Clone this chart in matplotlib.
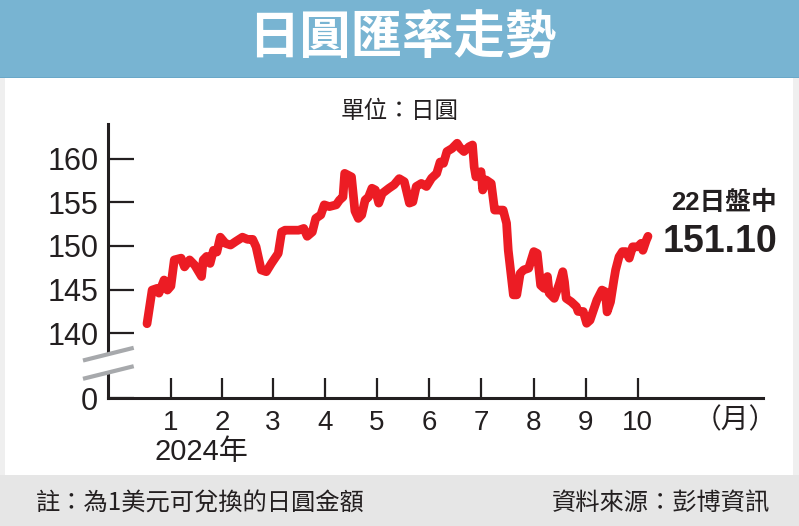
import matplotlib
matplotlib.use("Agg")
import matplotlib.pyplot as plt
from matplotlib.patches import Rectangle, Polygon
from matplotlib.lines import Line2D
import pandas as pd

plt.rcParams['font.family'] = ['Liberation Sans', 'Noto Sans CJK TC', 'DejaVu Sans']

# USD/JPY 2024
dates = ["01-02", "01-05", "01-08", "01-09", "01-12", "01-14", "01-16", "01-18",
         "01-22", "01-24", "01-27", "01-30", "02-03", "02-04", "02-06", "02-08",
         "02-10", "02-12", "02-14", "02-17", "02-20", "02-23", "02-27", "03-01",
         "03-04", "03-06", "03-09", "03-12", "03-15", "03-19", "03-21", "03-23",
         "03-28", "03-31", "04-03", "04-05", "04-08", "04-10", "04-13", "04-15",
         "04-18", "04-22", "04-24", "04-26", "04-27", "04-29", "05-01", "05-03",
         "05-05", "05-07", "05-09", "05-11", "05-13", "05-15", "05-17", "05-19",
         "05-23", "05-26", "05-29", "06-01", "06-04", "06-06", "06-08", "06-11",
         "06-14", "06-17", "06-20", "06-22", "06-24", "06-26", "06-29", "07-02",
         "07-04", "07-06", "07-09", "07-11", "07-12", "07-13", "07-16", "07-17",
         "07-19", "07-22", "07-24", "07-27", "07-29", "07-31", "08-01", "08-04",
         "08-06", "08-08", "08-10", "08-13", "08-16", "08-18", "08-20", "08-22",
         "08-24", "08-25", "08-28", "08-31", "09-02", "09-03", "09-04", "09-07",
         "09-10", "09-11", "09-14", "09-16", "09-18", "09-20", "09-22", "09-25",
         "09-27", "09-28", "09-30", "10-02", "10-03", "10-05", "10-07", "10-09",
         "10-11", "10-13", "10-16", "10-18", "10-19", "10-21", "10-22"]
rates = [141.1, 144.95, 145.15, 144.6, 146.1, 144.95, 145.4, 148.4,
         148.6, 147.6, 148.4, 147.8, 146.5, 148.4, 148.8, 148.0,
         149.5, 149.3, 151.0, 150.3, 150.1, 150.5, 151.0, 150.75,
         150.75, 149.9, 147.25, 147.05, 148.0, 149.15, 151.6, 151.8,
         151.8, 151.8, 152.0, 151.1, 151.6, 153.15, 153.55, 154.7,
         154.5, 154.7, 155.25, 155.6, 158.3, 158.1, 157.9, 154.0,
         153.15, 153.55, 155.25, 155.6, 156.6, 156.4, 154.9, 156.0,
         156.6, 157.0, 157.7, 157.35, 154.9, 155.05, 156.8, 157.15,
         156.8, 157.75, 158.3, 159.6, 159.45, 160.8, 161.15, 161.75,
         161.15, 160.8, 161.35, 161.55, 159.05, 157.9, 158.5, 156.4,
         157.55, 157.15, 154.1, 154.1, 154.1, 152.6, 149.5, 144.4,
         144.4, 146.85, 147.25, 147.45, 149.35, 149.15, 145.5, 145.15,
         146.5, 144.6, 144.0, 145.7, 147.05, 145.9, 144.0, 143.6,
         143.05, 142.5, 142.5, 141.15, 141.5, 142.65, 143.8, 144.95,
         144.75, 142.45, 143.6, 146.1, 147.25, 148.75, 149.35, 149.35,
         148.6, 149.9, 149.9, 150.3, 149.5, 150.65, 151.10]

months = [str(m) for m in range(1, 11)]
y_ticks = [140, 145, 150, 155, 160]
last_label = "22日盤中"
last_value = "151.10"

W, H = 799, 526
RED = '#ec1c24'
INK = '#231f20'


def fx(px):
    return px / W


def fy(py):
    return 1 - py / H


day = [pd.Timestamp("2024-" + d).dayofyear - 1 for d in dates]
month_pos = []
for m in range(1, 11):
    start = pd.Timestamp(2024, m, 1)
    month_pos.append(start.dayofyear - 1 + (start.days_in_month - 1) / 2)

fig = plt.figure(figsize=(W / 100, H / 100), dpi=100)
fig.patch.set_facecolor('#efefef')

# background panels
fig.patches.append(Rectangle((0, fy(78)), 1, 78 / H, transform=fig.transFigure,
                             facecolor='#78b4d2', edgecolor='none', zorder=0))
fig.patches.append(Rectangle((0, fy(78)), 1, 1.5 / H, transform=fig.transFigure,
                             facecolor='#6aa8c8', edgecolor='none', zorder=0))
fig.patches.append(Rectangle((fx(5), fy(475)), fx(793 - 5), (475 - 78) / H,
                             transform=fig.transFigure, facecolor='white',
                             edgecolor='none', zorder=0))
fig.patches.append(Rectangle((0, 0), 1, 51 / H, transform=fig.transFigure,
                             facecolor='#e6e6e6', edgecolor='none', zorder=0))

ax = fig.add_axes([fx(108), fy(398), fx(763 - 108), (398 - 124) / H])
ax.set_zorder(2)
ax.set_facecolor('none')
ax.plot(day, rates, color=RED, lw=6.3, solid_capstyle='round',
        solid_joinstyle='round', zorder=3)

ax.set_xlim(-21.9, 362.5)
ax.set_ylim(132.6, 163.95)

for s in ['top', 'right']:
    ax.spines[s].set_visible(False)
for s in ['left', 'bottom']:
    ax.spines[s].set_color(INK)
    ax.spines[s].set_linewidth(2.2)

ax.set_yticks(y_ticks + [132.6])
ax.set_yticklabels([str(v) for v in y_ticks] + ['0'])
ax.tick_params(axis='y', direction='in', length=19, width=1.6, color=INK,
               labelsize=22, pad=7, labelcolor=INK)
ax.set_xticks(month_pos)
ax.set_xticklabels(months)
ax.tick_params(axis='x', direction='in', length=14.5, width=1.6, color=INK,
               labelsize=20, pad=9, labelcolor=INK)

# axis break marks
fig.patches.append(Polygon([(fx(85), fy(360)), (fx(131.7), fy(348.3)),
                            (fx(131.7), fy(366.7)), (fx(85), fy(378.3))],
                           closed=True, transform=fig.transFigure,
                           facecolor='white', edgecolor='none', zorder=5))
for y0, y1 in [(360, 348.3), (378.3, 366.7)]:
    fig.lines.append(Line2D([fx(85), fx(131.7)], [fy(y0), fy(y1)],
                            transform=fig.transFigure, color='#a7a9ac',
                            lw=3, zorder=6))

fig.text(fx(402), fy(38.5), "日圓匯率走勢", ha='center', va='center',
         fontsize=37, fontweight='bold', color='white',
         family=['Noto Sans CJK TC'])
fig.text(fx(400), fy(112), "單位：日圓", ha='center', va='center',
         fontsize=17, color=INK, family=['Noto Sans CJK TC'])
fig.text(fx(777), fy(203), last_label, ha='right', va='center',
         fontsize=18.5, fontweight='bold', color=INK)
fig.text(fx(777), fy(242.5), last_value, ha='right', va='center',
         fontsize=27, fontweight='bold', color=INK)
fig.text(fx(155), fy(452), "2024年", ha='left', va='center',
         fontsize=21, color=INK)
fig.text(fx(735), fy(420), "（月）", ha='center', va='center',
         fontsize=20, color=INK, family=['Noto Sans CJK TC'])
fig.text(fx(36), fy(503), "註：為1美元可兌換的日圓金額", ha='left', va='center',
         fontsize=17.5, color=INK, family=['Noto Sans CJK TC'])
fig.text(fx(770), fy(503), "資料來源：彭博資訊", ha='right', va='center',
         fontsize=17.5, color=INK, family=['Noto Sans CJK TC'])

fig.savefig("out.png", dpi=100)
